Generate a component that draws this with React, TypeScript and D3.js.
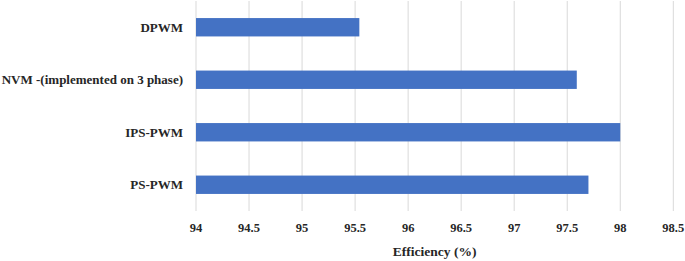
import React from "react";
import * as d3 from "d3";

const categories = ["DPWM", "NVM -(implemented on 3 phase)", "IPS-PWM", "PS-PWM"];
const efficiency = [95.54, 97.59, 98.0, 97.7];
const xTicks = [94, 94.5, 95, 95.5, 96, 96.5, 97, 97.5, 98, 98.5];
const xTitle = "Efficiency (%)";

const W = 685;
const H = 261;
const left = 196;
const right = 673.3;
const top = 1;
const bottom = 211;
const FONT = "'Liberation Serif', 'DejaVu Serif', serif";

export default function App() {
  const x = d3.scaleLinear().domain([94, 98.5]).range([left, right]);
  const y = d3.scaleBand<string>().domain(categories).range([top, bottom]).paddingInner(0.65).paddingOuter(0.325);
  const bh = y.bandwidth();
  return (
    <div style={{ position: "absolute", left: 0, top: 0 }}>
      <svg width={W} height={H} style={{ display: "block", background: "#fff" }}>
        {xTicks.map((t) => (
          <line key={"g" + t} x1={x(t)} x2={x(t)} y1={top} y2={bottom} stroke="#d9d9d9" strokeWidth={1} />
        ))}
        {categories.map((c, i) => (
          <rect key={c} x={x(94)} y={y(c)!} width={x(efficiency[i]) - x(94)} height={bh} fill="#4472C4" />
        ))}
        {categories.map((c) => (
          <text key={"l" + c} x={183} y={y(c)! + bh / 2} dy="0.35em" textAnchor="end" fontFamily={FONT} fontWeight="bold" fontSize={13} fill="#262626">
            {c}
          </text>
        ))}
        {xTicks.map((t) => (
          <text key={"t" + t} x={x(t)} y={228} dy="0.35em" textAnchor="middle" fontFamily={FONT} fontWeight="bold" fontSize={12.5} fill="#262626">
            {t}
          </text>
        ))}
        <text x={(left + right) / 2} y={251} dy="0.35em" textAnchor="middle" fontFamily={FONT} fontWeight="bold" fontSize={13.5} fill="#262626">
          {xTitle}
        </text>
      </svg>
    </div>
  );
}
